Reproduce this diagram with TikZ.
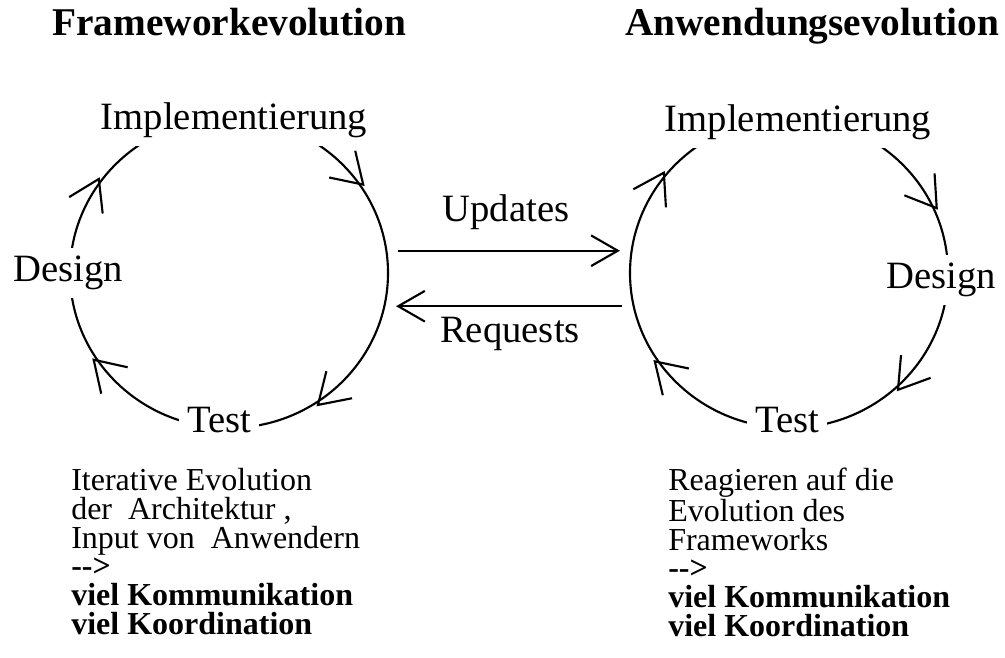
\documentclass[tikz,border=0pt]{standalone}
\usepackage{fontspec}
\setmainfont{Liberation Serif}
\usetikzlibrary{arrows.meta,shapes.geometric,decorations.markings}
\begin{document}
\begin{tikzpicture}[x=0.75pt,y=0.75pt,
    >={Straight Barb[length=20pt,width=23pt]},
    back barb/.tip={Straight Barb[reversed,length=22pt,width=28pt]},
    lbl/.style={font=\fontsize{29}{34}\selectfont, fill=white, inner sep=6pt, anchor=base},
    head/.style={font=\fontsize{29.5}{35}\selectfont\bfseries, anchor=base west, inner sep=0pt},
    note/.style={font=\fontsize{24}{21.6}\selectfont, align=left, anchor=north west, inner sep=0pt},
    cyc/.style={draw, ellipse, line width=1.6pt, minimum width=238.5pt, minimum height=232.5pt, inner sep=0pt},
    flow/.style={line width=1.6pt, ->, shorten <=8pt, shorten >=8pt}]
  \useasboundingbox (0,0) rectangle (1005,657);
  % the two cycles
  \node[cyc, postaction={decorate, decoration={markings,
      mark=at position 0.124 with {\arrow{back barb}},
      mark=at position 0.43 with {\arrow{back barb}},
      mark=at position 0.622 with {\arrow{back barb}},
      mark=at position 0.874 with {\arrow{back barb}}}}] (fwc) at (229,384) {};
  \node[cyc, postaction={decorate, decoration={markings,
      mark=at position 0.097 with {\arrow{back barb}},
      mark=at position 0.422 with {\arrow{back barb}},
      mark=at position 0.624 with {\arrow{back barb}},
      mark=at position 0.899 with {\arrow{back barb}}}}] (awc) at (789,384) {};
  \node[head] (fwHead) at (52,621) {Frameworkevolution};
  \node[head] (awHead) at (625,621) {Anwendungsevolution};
  \node[lbl] (fwImpl) at (234,527) {Implementierung};
  \node[lbl] (fwDes) at (68,375) {Design};
  \node[lbl] (fwTest) at (219,225) {Test};
  \node[lbl] (awImpl) at (798,525) {Implementierung};
  \node[lbl] (awDes) at (941,368) {Design};
  \node[lbl] (awTest) at (787,225) {Test};
  % exchange between framework and application
  \draw[flow] (fwc.8) -- (awc.172);
  \draw[flow] (awc.192) -- (fwc.-12);
  \node[lbl, fill=none] (upd) at (506,435) {Updates};
  \node[lbl, fill=none] (req) at (510,314) {Requests};
  \node[note] (fwNote) at (71,189) {Iterative Evolution\\der\ \ Architektur ,\\Input von\ \ Anwendern\\\textbf{-{}->}\\\textbf{viel Kommunikation}\\\textbf{viel Koordination}};
  \node[note] (awNote) at (668,189) {Reagieren auf die\\Evolution des\\Frameworks\\\textbf{-{}->}\\\textbf{viel Kommunikation}\\\textbf{viel Koordination}};
\end{tikzpicture}
\end{document}
